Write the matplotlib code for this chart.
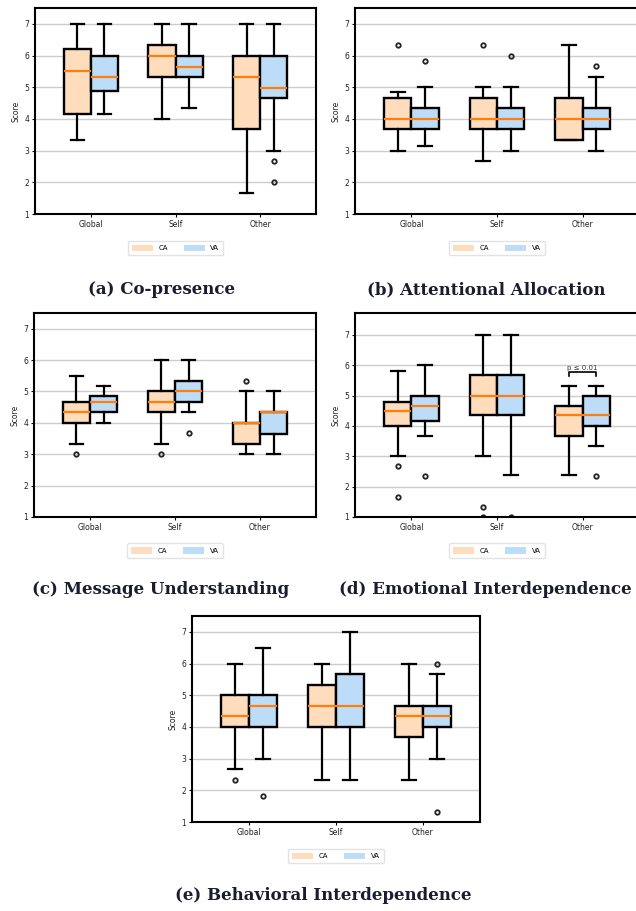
import matplotlib
matplotlib.use("Agg")
import matplotlib.pyplot as plt
from matplotlib.patches import Patch

groups = ["Global", "Self", "Other"]

# stats per group: (whisker low, q1, median, q3, whisker high)
copres_ca = [(3.33, 4.17, 5.5, 6.2, 7.0), (4.0, 5.33, 6.0, 6.33, 7.0), (1.67, 3.67, 5.33, 6.0, 7.0)]
copres_va = [(4.17, 4.87, 5.33, 6.0, 7.0), (4.33, 5.33, 5.63, 6.0, 7.0), (3.0, 4.67, 4.97, 6.0, 7.0)]
copres_ca_out = [[], [], []]
copres_va_out = [[], [], [2.67, 2.0]]

attn_ca = [(3.0, 3.67, 4.0, 4.67, 4.85), (2.67, 3.67, 4.0, 4.67, 5.0), (3.33, 3.33, 4.0, 4.67, 6.33)]
attn_va = [(3.15, 3.67, 4.0, 4.33, 5.0), (3.0, 3.67, 4.0, 4.33, 5.0), (3.0, 3.67, 4.0, 4.33, 5.33)]
attn_ca_out = [[6.33], [6.33], []]
attn_va_out = [[5.83], [6.0], [5.67]]

msg_ca = [(3.33, 4.0, 4.33, 4.67, 5.5), (3.33, 4.33, 4.67, 5.0, 6.0), (3.0, 3.33, 4.0, 4.0, 5.0)]
msg_va = [(4.0, 4.33, 4.67, 4.87, 5.17), (4.33, 4.67, 5.0, 5.33, 6.0), (3.0, 3.65, 4.33, 4.33, 5.0)]
msg_ca_out = [[3.0], [3.0], [5.33]]
msg_va_out = [[], [3.67], []]

emo_ca = [(3.0, 4.0, 4.5, 4.8, 5.8), (3.0, 4.37, 5.0, 5.67, 7.0), (2.37, 3.67, 4.37, 4.67, 5.33)]
emo_va = [(3.67, 4.17, 4.67, 5.0, 6.0), (2.37, 4.37, 5.0, 5.67, 7.0), (3.35, 4.0, 4.37, 5.0, 5.33)]
emo_ca_out = [[2.67, 1.67], [1.33, 1.0], []]
emo_va_out = [[2.35], [1.0], [2.35]]

beh_ca = [(2.67, 4.0, 4.33, 5.0, 6.0), (2.33, 4.0, 4.67, 5.33, 6.0), (2.33, 3.67, 4.33, 4.67, 6.0)]
beh_va = [(3.0, 4.0, 4.67, 5.0, 6.5), (2.33, 4.0, 4.67, 5.67, 7.0), (3.0, 4.0, 4.33, 4.67, 5.67)]
beh_ca_out = [[2.33], [], []]
beh_va_out = [[1.83], [], [6.0, 1.33]]

CA_COLOR = "#ffdcbc"
VA_COLOR = "#bcdcf8"
MED_COLOR = "#ff7f0e"
TITLE_COLOR = "#1c1c30"

W, H = 636, 911
fig = plt.figure(figsize=(W / 100, H / 100), dpi=100)


def make_axes(left, top, right, bottom):
    return fig.add_axes([left / W, 1 - bottom / H, (right - left) / W, (bottom - top) / H])


def stats(rows, outs):
    res = []
    for (lo, q1, med, q3, hi), fl in zip(rows, outs):
        res.append(dict(whislo=lo, q1=q1, med=med, q3=q3, whishi=hi, fliers=fl))
    return res


def draw_panel(ax, ca, va, ca_out, va_out, ylim=(1, 7.5)):
    pos = list(range(1, len(groups) + 1))
    for rows, outs, off, color in [(ca, ca_out, -0.16, CA_COLOR), (va, va_out, 0.16, VA_COLOR)]:
        ax.bxp(stats(rows, outs), positions=[p + off for p in pos], widths=0.32,
               patch_artist=True, manage_ticks=False,
               boxprops=dict(facecolor=color, edgecolor="black", linewidth=1.7),
               medianprops=dict(color=MED_COLOR, linewidth=1.6),
               whiskerprops=dict(color="black", linewidth=1.6),
               capprops=dict(color="black", linewidth=1.6),
               flierprops=dict(marker="o", markerfacecolor="none", markeredgecolor="#222222",
                               markersize=3.2, markeredgewidth=1.3))
    ax.set_xlim(0.34, 3.66)
    ax.set_ylim(*ylim)
    ax.set_xticks(pos)
    ax.set_xticklabels(groups, fontsize=5.5, color="#222222")
    ax.set_yticks(range(1, 8))
    ax.tick_params(axis="y", labelsize=5.5, labelcolor="#222222", length=2.5, width=0.8, pad=1.5)
    ax.tick_params(axis="x", length=2.5, width=0.8, pad=2)
    ax.yaxis.grid(True, color="#cccccc", linewidth=1.0)
    ax.set_axisbelow(True)
    for s in ax.spines.values():
        s.set_linewidth(1.5)
    ax.set_ylabel("Score", fontsize=5.5, labelpad=3, color="#222222")
    handles = [Patch(facecolor=CA_COLOR, edgecolor="none", label="CA"),
               Patch(facecolor=VA_COLOR, edgecolor="none", label="VA")]
    ax.legend(handles=handles, loc="center", bbox_to_anchor=(0.5, -0.165), ncol=2,
              fontsize=5, handlelength=3.0, handleheight=1.0, columnspacing=2.3,
              frameon=True, edgecolor="#dddddd", fancybox=True, borderpad=0.6)


ax_a = make_axes(35, 8, 316, 214)
draw_panel(ax_a, copres_ca, copres_va, copres_ca_out, copres_va_out)

ax_b = make_axes(355, 8, 639, 214)
draw_panel(ax_b, attn_ca, attn_va, attn_ca_out, attn_va_out)

ax_c = make_axes(34, 313, 316, 517)
draw_panel(ax_c, msg_ca, msg_va, msg_ca_out, msg_va_out)

ax_d = make_axes(355, 313, 639, 517)
draw_panel(ax_d, emo_ca, emo_va, emo_ca_out, emo_va_out, ylim=(1.04, 7.72))
# significance bracket on Other
bx0, bx1, by = 3 - 0.16, 3 + 0.16, 5.77
ax_d.plot([bx0, bx0, bx1, bx1], [by - 0.14, by, by, by - 0.14], color="black", linewidth=1.2)
ax_d.text(3, by + 0.05, "p \u2264 0.01", ha="center", va="bottom", fontsize=5, color="#333333")

ax_e = make_axes(192, 616, 480, 822)
draw_panel(ax_e, beh_ca, beh_va, beh_ca_out, beh_va_out)

titles = [("(a) Co-presence", 161, 290), ("(b) Attentional Allocation", 486, 290),
          ("(c) Message Understanding", 161, 590), ("(d) Emotional Interdependence", 485, 590),
          ("(e) Behavioral Interdependence", 323, 895)]
for txt, x, y in titles:
    fig.text(x / W, 1 - y / H, txt, ha="center", va="center", fontsize=12,
             fontweight="bold", family="DejaVu Serif", color=TITLE_COLOR)

fig.savefig("out.png", dpi=100)
